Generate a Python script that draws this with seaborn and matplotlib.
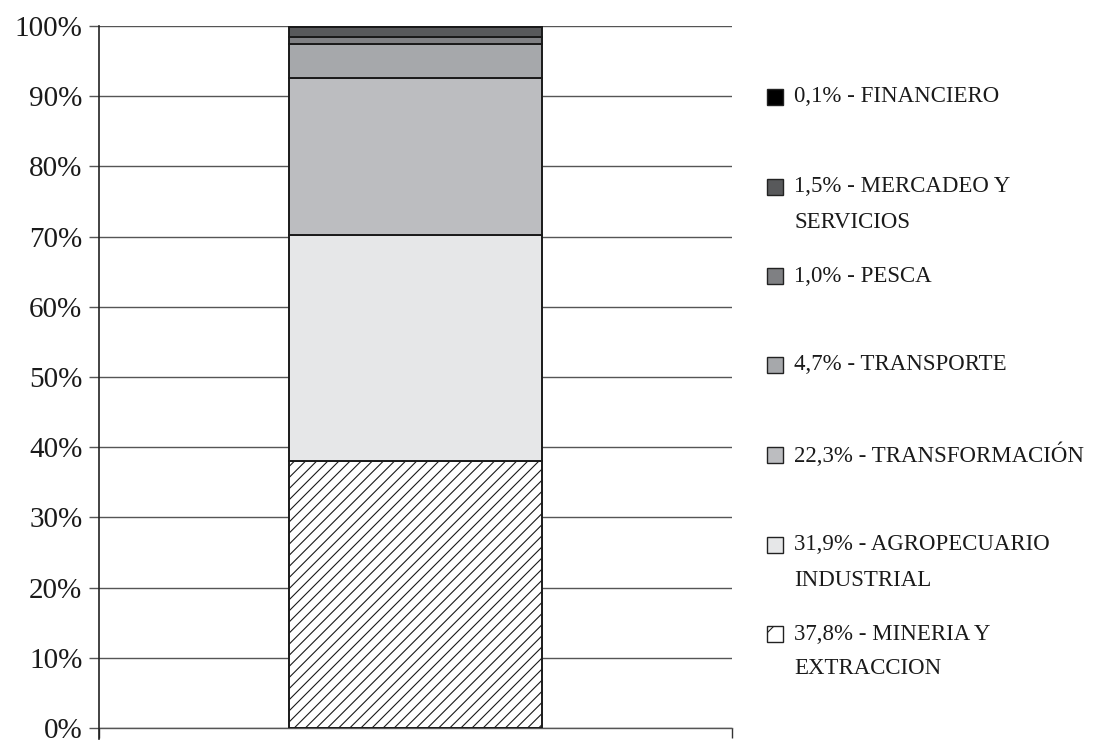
import numpy as np
import pandas as pd
import matplotlib
matplotlib.use("Agg")
import matplotlib.pyplot as plt
from matplotlib.patches import Rectangle
import seaborn as sns

# data (bottom -> top of the stack)
sectors = ["MINERIA Y\nEXTRACCION", "AGROPECUARIO\nINDUSTRIAL", "TRANSFORMACIÓN",
           "TRANSPORTE", "PESCA", "MERCADEO Y\nSERVICIOS", "FINANCIERO"]
shares = [37.8, 31.9, 22.3, 4.7, 1.0, 1.5, 0.1]
share_labels = ["37,8%", "31,9%", "22,3%", "4,7%", "1,0%", "1,5%", "0,1%"]
colors = ["#ffffff", "#e6e7e8", "#bcbdc0", "#a6a8ab", "#7f8083", "#58595b", "#000000"]
hatches = ["///", "", "", "", "", "", ""]

sns.set_theme(style="white")
plt.rcParams["font.family"] = ["Liberation Serif", "DejaVu Serif"]
plt.rcParams["hatch.linewidth"] = 0.8

# 100% stacked: normalise
vals = np.array(shares) / np.sum(shares) * 100
bottoms = np.concatenate([[0], np.cumsum(vals)[:-1]])

fig = plt.figure(figsize=(10.93, 7.40), dpi=100)
ax = fig.add_axes([0.0906, 0.0162, 0.5791, 0.9487])

for v, b, c, h in zip(vals, bottoms, colors, hatches):
    df = pd.DataFrame({"x": ["total"], "y": [v]})
    sns.barplot(data=df, x="x", y="y", bottom=b, color=c, width=0.4,
                edgecolor="#1a1a1a", linewidth=1.4, hatch=h, saturation=1,
                ax=ax, zorder=3)

ax.set_xlim(-0.5, 0.5)
ax.set_ylim(0, 100)
ax.set_yticks(np.arange(0, 101, 10))
ax.set_yticklabels([f"{t}%" for t in range(0, 101, 10)], fontsize=21)
ax.set_xticks([-0.5, 0.5])
ax.set_xticklabels(["", ""])
ax.set_xlabel("")
ax.set_ylabel("")
ax.yaxis.grid(True, color="#555555", linewidth=1.0, zorder=0)
ax.tick_params(axis="y", direction="out", length=7, width=1.0, color="#555555",
               left=True, pad=5, colors="#1a1a1a")
ax.tick_params(axis="x", direction="out", length=7, width=1.0, color="#333333", bottom=True)
for s in ["top", "right"]:
    ax.spines[s].set_visible(False)
ax.spines["left"].set_color("#222222")
ax.spines["left"].set_linewidth(1.2)
ax.spines["left"].set_bounds(-1.5, 100)
ax.spines["bottom"].set_color("#555555")
ax.spines["bottom"].set_linewidth(1.0)
ax.spines["left"].set_zorder(4)

# legend drawn manually (first line aligned with the swatch)
W, H = 1093, 740
ys = [97, 187, 276, 365, 455, 545, 634]
for i, y in enumerate(ys):
    k = len(sectors) - 1 - i
    sq = 16
    fig.add_artist(Rectangle((767 / W, 1 - (y + sq / 2) / H), sq / W, sq / H,
                             transform=fig.transFigure, facecolor=colors[k],
                             edgecolor="#222222", linewidth=1.0, hatch=hatches[k][:1]))
    lines = sectors[k].split("\n")
    fig.text(794 / W, 1 - y / H, f"{share_labels[k]} - {lines[0]}", fontsize=16.5,
             va="center", ha="left", color="#1a1a1a")
    if len(lines) > 1:
        fig.text(794 / W, 1 - (y + 35) / H, lines[1], fontsize=16.5,
                 va="center", ha="left", color="#1a1a1a")

fig.savefig("out.png", dpi=100)
